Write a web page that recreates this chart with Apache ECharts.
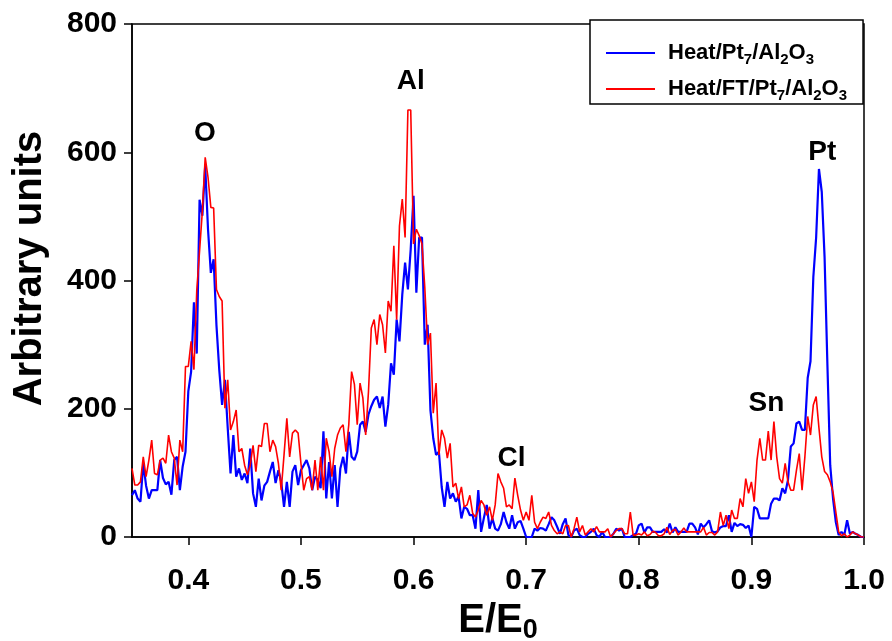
<!DOCTYPE html>
<html>
<head>
<meta charset="utf-8">
<script src="https://cdn.jsdelivr.net/npm/echarts@6/dist/echarts.min.js"></script>
<style>
html,body{margin:0;padding:0;background:#fff;}
#chart{width:892px;height:641px;}
</style>
</head>
<body>
<div id="chart"></div>
<script>
// Energy channels: E/E0 from xStart in steps of xStep
const xStart = 0.35;
const xStep = 0.0025;

// Heat/Pt7/Al2O3 (blue)
const blueVals = [
  65, 73, 60, 55, 115, 80, 60, 73, 73, 73,
  120, 92, 82, 86, 66, 120, 125, 73, 110, 133,
  227, 258, 366, 286, 526, 501, 579, 480, 412, 433,
  330, 260, 206, 245, 170, 99, 159, 94, 107, 89,
  99, 84, 138, 68, 47, 91, 57, 80, 86, 102,
  117, 84, 104, 86, 47, 86, 47, 102, 112, 81,
  104, 112, 120, 107, 73, 94, 89, 76, 165, 60,
  117, 60, 112, 47, 107, 125, 99, 164, 125, 120,
  133, 175, 180, 164, 191, 204, 214, 219, 201, 219,
  172, 206, 271, 253, 339, 305, 378, 428, 386, 449,
  532, 381, 467, 467, 300, 331, 198, 154, 128, 133,
  78, 47, 86, 60, 68, 55, 63, 29, 47, 44,
  34, 34, 13, 73, 8, 30, 50, 13, 29, 13,
  10, 20, 39, 23, 13, 34, 13, 23, 25, 13,
  0, 0, 0, 13, 10, 14, 13, 10, 20, 31,
  26, 16, 5, 20, 29, 3, 0, 10, 13, 3,
  0, 0, 5, 8, 13, 3, 0, 8, 0, 0,
  0, 5, 13, 10, 13, 0, 0, 0, 3, 5,
  18, 21, 7, 15, 15, 8, 8, 8, 8, 12,
  7, 21, 7, 15, 8, 8, 8, 8, 21, 21,
  15, 4, 21, 15, 20, 26, 9, 7, 9, 15,
  17, 17, 34, 8, 22, 17, 20, 19, 14, 18,
  0, 47, 44, 29, 29, 29, 29, 52, 60, 60,
  57, 76, 68, 89, 141, 146, 177, 180, 167, 167,
  248, 274, 405, 467, 574, 538, 436, 269, 112, 60,
  23, 3, 8, 3, 26, 5, 8, 5, 3, 0, 0
];

// Heat/FT/Pt7/Al2O3 (red)
const redVals = [
  107, 81, 81, 86, 125, 94, 120, 151, 99, 97,
  120, 123, 115, 159, 133, 123, 81, 151, 133, 266,
  266, 305, 261, 384, 446, 509, 592, 561, 514, 513,
  386, 375, 368, 201, 245, 167, 180, 198, 133, 138,
  112, 97, 112, 143, 102, 143, 141, 177, 177, 133,
  151, 141, 115, 73, 128, 185, 125, 162, 167, 162,
  115, 73, 91, 94, 73, 120, 73, 125, 73, 154,
  133, 94, 138, 159, 170, 175, 133, 175, 258, 238,
  175, 240, 217, 159, 227, 326, 339, 300, 347, 331,
  287, 368, 352, 454, 339, 485, 527, 467, 666, 666,
  457, 480, 470, 457, 389, 300, 318, 193, 240, 128,
  167, 154, 123, 146, 78, 84, 60, 78, 47, 50,
  65, 37, 31, 42, 57, 50, 34, 47, 26, 50,
  99, 86, 76, 47, 50, 44, 92, 65, 42, 26,
  39, 26, 65, 23, 13, 23, 31, 29, 39, 18,
  10, 5, 8, 5, 18, 18, 0, 13, 31, 8,
  18, 3, 8, 13, 8, 16, 8, 8, 8, 13,
  0, 5, 10, 13, 13, 5, 5, 39, 3, 3,
  5, 3, 8, 2, 4, 9, 7, 2, 2, 5,
  15, 4, 10, 12, 3, 8, 14, 8, 8, 8,
  8, 8, 8, 15, 3, 7, 7, 3, 8, 39,
  18, 34, 13, 42, 29, 29, 60, 47, 91, 68,
  86, 55, 120, 154, 120, 120, 165, 120, 180, 125,
  91, 84, 115, 86, 73, 73, 104, 130, 73, 125,
  188, 159, 206, 219, 170, 125, 102, 97, 86, 70,
  39, 8, 2, 5, 0, 3, 8, 5, 3, 0, 0
];

const xTicks = [0.4, 0.5, 0.6, 0.7, 0.8, 0.9, 1.0];
const yTicks = [0, 200, 400, 600, 800];

// Peak annotations
const annoText = ['O', 'Al', 'Cl', 'Sn', 'Pt'];
const annoX = [0.4148, 0.5975, 0.687, 0.9133, 0.963];
const annoY = [630, 710, 123, 209, 600];

const seriesNames = ['Heat/Pt7/Al2O3', 'Heat/FT/Pt7/Al2O3'];

function toPairs(vals) {
  return vals.map((v, i) => [+(xStart + i * xStep).toFixed(4), v]);
}

const FONT = '"Liberation Sans", Arial, sans-serif';

const chart = echarts.init(document.getElementById('chart'), null, {renderer: 'canvas'});

const subRich = function (size, subSize, lh) {
  return {
    m: {fontSize: size, fontWeight: 'bold', fontFamily: FONT, color: '#000', lineHeight: lh, verticalAlign: 'middle'},
    s: {fontSize: subSize, fontWeight: 'bold', fontFamily: FONT, color: '#000', lineHeight: Math.round(subSize * 0.8), verticalAlign: 'bottom'}
  };
};

chart.setOption({
  animation: false,
  backgroundColor: '#fff',
  grid: {left: 132, right: 28, top: 24, bottom: 104, show: true, borderColor: '#000', borderWidth: 1.5,
    backgroundColor: 'transparent', containLabel: false, outerBoundsMode: 'none'},
  legend: {
    data: seriesNames,
    orient: 'vertical',
    left: 590,
    top: 20,
    padding: [22, 16, 1, 16],
    icon: 'rect',
    itemWidth: 49,
    itemHeight: 2,
    itemGap: 11,
    borderColor: '#000',
    borderWidth: 1.5,
    backgroundColor: '#fff',
    selectedMode: false,
    textStyle: {rich: subRich(22, 15, 28), padding: [0, 0, 0, 8]},
    formatter: function (name) {
      if (name === seriesNames[0]) return '{m|Heat/Pt}{s|7}{m|/Al}{s|2}{m|O}{s|3}';
      return '{m|Heat/FT/Pt}{s|7}{m|/Al}{s|2}{m|O}{s|3}';
    }
  },
  xAxis: {
    type: 'value',
    min: 0.35,
    max: 1.0,
    name: '{m|E/E}{s|0}',
    nameLocation: 'middle',
    nameGap: 53,
    nameTextStyle: {rich: subRich(40, 27, 46)},
    axisLine: {show: true, lineStyle: {color: '#000', width: 1.5}},
    axisTick: {show: true, inside: false, length: 8, customValues: xTicks, lineStyle: {color: '#000', width: 1.5}},
    axisLabel: {
      customValues: xTicks,
      margin: 29,
      fontSize: 30,
      fontWeight: 'bold',
      fontFamily: FONT,
      color: '#000',
      formatter: function (v) { return v.toFixed(1); }
    },
    splitLine: {show: false}
  },
  yAxis: {
    type: 'value',
    min: 0,
    max: 800,
    interval: 200,
    name: 'Arbitrary units',
    nameLocation: 'middle',
    nameRotate: 90,
    nameGap: 82,
    nameTextStyle: {fontSize: 40, fontWeight: 'bold', fontFamily: FONT, color: '#000', padding: [0, 0, 0, 24]},
    axisLine: {show: true, lineStyle: {color: '#000', width: 1.5}},
    axisTick: {show: true, inside: false, length: 8, lineStyle: {color: '#000', width: 1.5}},
    axisLabel: {margin: 15, fontSize: 30, fontWeight: 'bold', fontFamily: FONT, color: '#000',
      customValues: yTicks},
    splitLine: {show: false}
  },
  series: [
    {
      name: seriesNames[0],
      type: 'line',
      data: toPairs(blueVals),
      symbol: 'none',
      lineStyle: {color: '#0000ff', width: 2.2},
      itemStyle: {color: '#0000ff'},
      z: 3
    },
    {
      name: seriesNames[1],
      type: 'line',
      data: toPairs(redVals),
      symbol: 'none',
      lineStyle: {color: '#ff0000', width: 1.6},
      itemStyle: {color: '#ff0000'},
      z: 4
    },
    {
      name: 'labels',
      type: 'scatter',
      data: annoText.map((t, i) => ({value: [annoX[i], annoY[i]], name: t})),
      symbol: 'circle',
      symbolSize: 1,
      itemStyle: {color: '#ffffff', opacity: 1},
      label: {
        show: true,
        position: 'inside',
        formatter: function (p) { return p.name; },
        fontSize: 28,
        fontWeight: 'bold',
        fontFamily: FONT,
        color: '#000000',
        textBorderWidth: 0
      },
      z: 5
    }
  ]
});
</script>
</body>
</html>
